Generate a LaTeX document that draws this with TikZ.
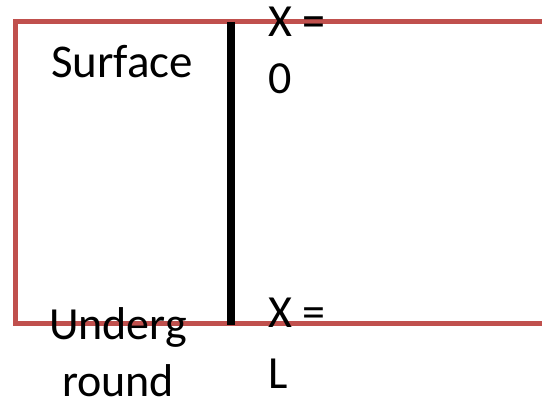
\documentclass[tikz,border=0pt]{standalone}
\usepackage{fontspec}
\setmainfont{Carlito}
\definecolor{bordred}{HTML}{C0504D}
\begin{document}
\begin{tikzpicture}[x=1pt,y=-1pt,
  redline/.style={draw=bordred,line width=5pt,line join=miter},
  blackbar/.style={draw=black,line width=8pt},
  lbl/.style={anchor=base west,inner sep=0pt,outer sep=0pt,font=\fontsize{46}{55}\selectfont}]
\useasboundingbox (0,0) rectangle (542,403);
\coordinate (tr) at (545,22);
\coordinate (tl) at (15,22);
\coordinate (bl) at (15,324);
\coordinate (br) at (545,324);
\draw[redline] (tr) -- (tl) -- (bl) -- (br);
\coordinate (bt) at (231,22);
\coordinate (bb) at (231,325);
\draw[blackbar] (bt) -- (bb);
\node[lbl,font=\fontsize{47}{55}\selectfont] (surf) at (51,78) {Surface};
\node[lbl] (xa) at (268,37) {X =};
\node[lbl] (za) at (268,94) {0};
\node[lbl] (und) at (49,340) {Underg};
\node[lbl] (rnd) at (62,397) {round};
\node[lbl] (xb) at (268,328) {X =};
\node[lbl] (lb) at (268,389) {L};
\end{tikzpicture}
\end{document}
